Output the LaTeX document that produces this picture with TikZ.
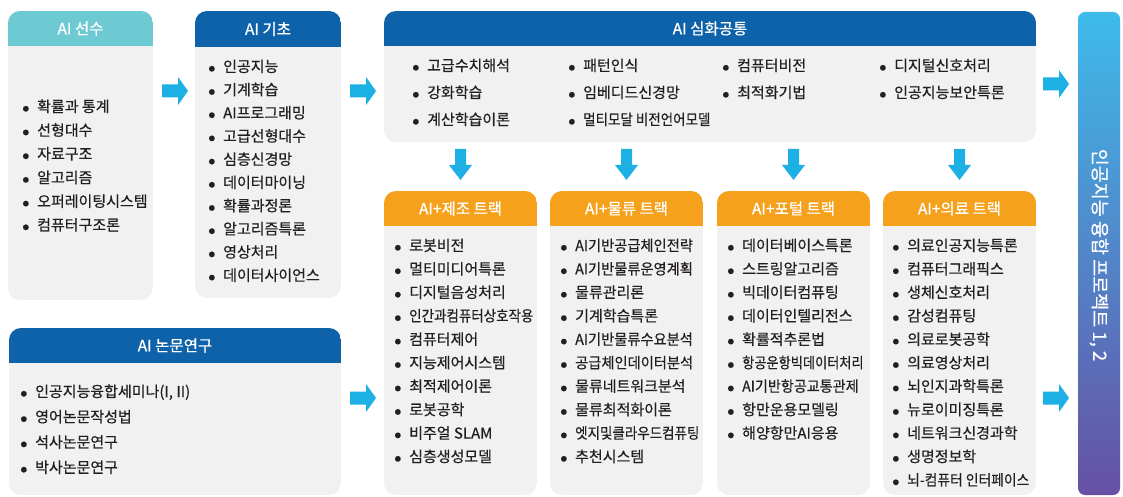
\documentclass[tikz,border=0pt]{standalone}
\usepackage{graphicx}
\usepackage{fontspec}
\setmainfont{Noto Sans CJK KR}
\newfontfamily\medfont{Noto Sans CJK KR}[FakeBold=0.45]
\newfontfamily\hdrfont{Noto Sans CJK KR}[FakeBold=0.7]
\definecolor{teal1}{HTML}{6DCAD2}
\definecolor{navy1}{HTML}{0E62A9}
\definecolor{orange1}{HTML}{F5A11C}
\definecolor{bodygray}{HTML}{F1F1F2}
\definecolor{arrowc}{HTML}{1CB0E5}
\definecolor{txt}{HTML}{231F20}
\definecolor{bartop}{HTML}{3EBBEB}
\definecolor{barbot}{HTML}{6650A5}
\newcommand\panel[8]{%
  \begin{scope}
    \clip[rounded corners=12] (#2,#3) rectangle (#4,#5);
    \fill[bodygray] (#2,#3) rectangle (#4,#5);
    \fill[#7] (#2,#3) rectangle (#4,{#3+#6});
  \end{scope}
  \node[hdr] (#1) at ({(#2+#4)/2},{#3+#6/2}) {#8};
}
\newcommand\bul{\makebox[14pt][l]{\hspace{-0.5pt}\raisebox{0.8pt}{\fontsize{6.3}{7}\selectfont ●}}}
\newcommand\itemlist[5]{%
  \foreach \itm [count=\i] in {#5}
    \node[itemtext] (#1\i) at ({#2-14},{#3+(\i-1)*#4}) {\bul\itm};
}
\newcommand\nar[2]{\scalebox{#1}[1]{#2}}
\tikzset{
  hdr/.style={font=\hdrfont\fontsize{15.5}{18}\selectfont, text=white, inner sep=0},
  itemtext/.style={anchor=west, inner sep=0, text=txt, font=\medfont\fontsize{15}{17}\selectfont, text height=11pt, text depth=3pt},
  rarrow/.pic={\fill[arrowc] (0,-6.5) -- (16,-6.5) -- (16,-14) -- (26,0) -- (16,14) -- (16,6.5) -- (0,6.5) -- cycle;},
  darrow/.pic={\fill[arrowc] (-5.5,0) -- (5.5,0) -- (5.5,16) -- (11.5,16) -- (0,31) -- (-11.5,16) -- (-5.5,16) -- cycle;}
}
\begin{document}
\begin{tikzpicture}[x=1pt,y=-1pt]
\useasboundingbox (0,0) rectangle (1123,497);
\fill[white] (0,0) rectangle (1123,497);

\panel{sunsu}{8}{11}{153}{300}{35}{teal1}{AI 선수}
\panel{gicho}{195}{11}{341}{298}{36}{navy1}{AI 기초}
\panel{simhwa}{384}{11}{1036}{142}{35}{navy1}{AI 심화공통}
\panel{nonmun}{9}{328}{341}{495}{35}{navy1}{AI 논문연구}
\panel{jejo}{384}{191}{537}{495}{35}{orange1}{AI+제조 트랙}
\panel{mullyu}{550}{191}{703}{495}{35}{orange1}{AI+물류 트랙}
\panel{potal}{717}{191}{870}{495}{35}{orange1}{AI+포털 트랙}
\panel{uiryo}{883}{191}{1036}{495}{35}{orange1}{AI+의료 트랙}

% project bar
\shade[top color=bartop, bottom color=barbot, rounded corners=7] (1078,12) rectangle (1120,495);
\node[text=white, rotate=-90, font=\medfont\fontsize{18.5}{20}\selectfont, inner sep=0] (proj) at (1099,255) {인공지능 융합 프로젝트 1, 2};

% arrows
\pic (ra1) at (162,91) {rarrow};
\pic (ra2) at (350,91) {rarrow};
\pic (ra3) at (1043,84) {rarrow};
\pic (ra4) at (350,398) {rarrow};
\pic (ra5) at (1043,398) {rarrow};
\pic (da1) at (460.5,149) {darrow};
\pic (da2) at (626.5,149) {darrow};
\pic (da3) at (793.5,149) {darrow};
\pic (da4) at (959.5,149) {darrow};

% lists
\itemlist{s}{37}{108}{23.7}{확률과 통계,선형대수,자료구조,알고리즘,오퍼레이팅시스템,컴퓨터구조론}
\itemlist{g}{223}{68}{23.2}{인공지능,기계학습,AI프로그래밍,고급선형대수,심층신경망,데이터마이닝,확률과정론,알고리즘특론,영상처리,데이터사이언스}
\itemlist{ha}{427}{67}{27}{고급수치해석,강화학습,계산학습이론}
\itemlist{hb}{583}{67}{27}{패턴인식,임베디드신경망,\nar{0.9}{멀티모달 비전언어모델}}
\itemlist{hc}{737}{67}{27}{컴퓨터비전,최적화기법}
\itemlist{hd}{894}{67}{27}{디지털신호처리,인공지능보안특론}
\itemlist{n}{35}{393}{25.3}{{인공지능융합세미나(I, II)},영어논문작성법,석사논문연구,박사논문연구}
\itemlist{j}{409}{247}{23.45}{로봇비전,멀티미디어특론,디지털음성처리,\nar{0.9}{인간과컴퓨터상호작용},컴퓨터제어,지능제어시스템,최적제어이론,로봇공학,비주얼 SLAM,심층생성모델}
\itemlist{m}{575}{247}{23.45}{\nar{0.95}{AI기반공급체인전략},\nar{0.95}{AI기반물류운영계획},물류관리론,기계학습특론,\nar{0.95}{AI기반물류수요분석},\nar{0.95}{공급체인데이터분석},물류네트워크분석,물류최적화이론,\nar{0.9}{엣지및클라우드컴퓨팅},추천시스템}
\itemlist{p}{742}{247}{23.45}{데이터베이스특론,스트링알고리즘,빅데이터컴퓨팅,데이터인텔리전스,확률적추론법,\nar{0.88}{항공운항빅데이터처리},\nar{0.94}{AI기반항공교통관제},항만운용모델링,해양항만AI응용}
\itemlist{u}{907}{247}{23.45}{의료인공지능특론,컴퓨터그래픽스,생체신호처리,감성컴퓨팅,의료로봇공학,의료영상처리,뇌인지과학특론,뉴로이미징특론,네트워크신경과학,생명정보학,\nar{0.92}{뇌-컴퓨터 인터페이스}}
\end{tikzpicture}
\end{document}
